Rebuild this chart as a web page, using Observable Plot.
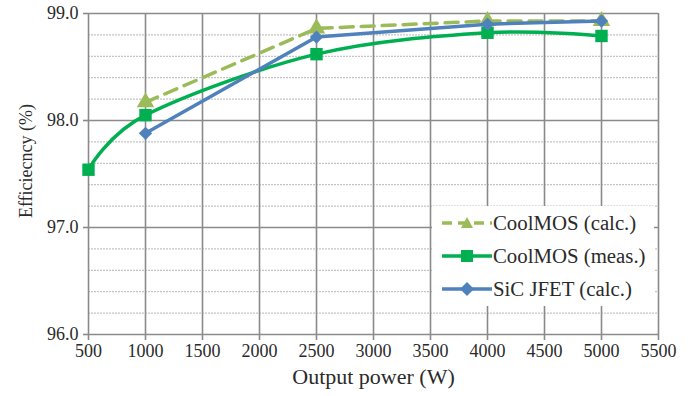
<!DOCTYPE html>
<html>
<head>
<meta charset="utf-8">
<script src="https://cdn.jsdelivr.net/npm/d3@7"></script>
<script src="https://cdn.jsdelivr.net/npm/@observablehq/plot@0.6"></script>
<style>
  html, body { margin: 0; padding: 0; background: #fff; }
  #wrap { position: relative; width: 689px; height: 396px; font-family: "Liberation Serif", "Times New Roman", serif; }
  #legend { position: absolute; left: 432px; top: 206px; width: 222px; height: 100px; background: #fff; }
  .row { display: flex; align-items: center; height: 33px; padding-left: 10px; font-size: 20.8px; color: #2a2a2a; }
  .row svg { margin-right: 1px; }
</style>
</head>
<body>
<div id="wrap"><div id="legend"></div></div>
<script>
// Data
const seriesNames = ["CoolMOS (calc.)", "CoolMOS (meas.)", "SiC JFET (calc.)"];
const seriesColors = ["#9BBB59", "#00B050", "#4F81BD"];
const calcPower = [1000, 2500, 4000, 5000];
const coolCalc = [98.17, 98.86, 98.93, 98.93];
const measPower = [500, 1000, 2500, 4000, 5000];
const coolMeas = [97.54, 98.05, 98.62, 98.82, 98.79];
const jfetPower = [1000, 2500, 4000, 5000];
const jfetCalc = [97.88, 98.78, 98.90, 98.93];
const xTicks = [500, 1000, 1500, 2000, 2500, 3000, 3500, 4000, 4500, 5000, 5500];
const yTicks = [96, 97, 98, 99];
const yMinor = [96.2, 96.4, 96.6, 96.8, 97.2, 97.4, 97.6, 97.8, 98.2, 98.4, 98.6, 98.8];
const xLabel = "Output power (W)";
const yLabel = "Efficiecncy (%)";

const calcData = calcPower.map((p, i) => ({p, v: coolCalc[i]}));
const measData = measPower.map((p, i) => ({p, v: coolMeas[i]}));
const jfetData = jfetPower.map((p, i) => ({p, v: jfetCalc[i]}));

const chart = Plot.plot({
  width: 689,
  height: 396,
  marginLeft: 88,
  marginRight: 31,
  marginTop: 13,
  marginBottom: 62,
  style: {fontFamily: "'Liberation Serif', 'Times New Roman', serif", fontSize: "18px", color: "#2a2a2a", background: "#fff"},
  x: {domain: [500, 5500]},
  y: {domain: [96, 99]},
  marks: [
    Plot.gridY(yMinor, {stroke: "#c4c4c4", strokeOpacity: 1, strokeWidth: 1.2, strokeDasharray: "2,1"}),
    Plot.gridY(yTicks, {stroke: "#8a8a8a", strokeOpacity: 1, strokeWidth: 1.6}),
    Plot.gridX(xTicks, {stroke: "#8a8a8a", strokeOpacity: 1, strokeWidth: 1.6}),
    Plot.axisY(yTicks, {tickFormat: d => d.toFixed(1), tickSize: 5, tickPadding: 5, stroke: "#8a8a8a", strokeWidth: 1.6, label: null, fontSize: 18}),
    Plot.axisX(xTicks, {tickFormat: d => String(d), tickSize: 6, tickPadding: 4, stroke: "#8a8a8a", strokeWidth: 1.6, label: null, fontSize: 18}),
    Plot.text([xLabel], {frameAnchor: "bottom", textAnchor: "middle", dy: 49, fontSize: 22, fill: "#2a2a2a"}),
    Plot.text([yLabel], {frameAnchor: "left", textAnchor: "middle", rotate: -90, dx: -62, dy: -13, fontSize: 18, fill: "#2a2a2a"}),
    Plot.line(calcData, {x: "p", y: "v", stroke: seriesColors[0], strokeWidth: 3.5, strokeDasharray: "13,8"}),
    Plot.dot(calcData, {x: "p", y: "v", symbol: "triangle", r: 6.5, fill: seriesColors[0], stroke: "none"}),
    Plot.line(measData, {x: "p", y: "v", stroke: seriesColors[1], strokeWidth: 3.5, curve: "cardinal"}),
    Plot.dot(measData, {x: "p", y: "v", symbol: "square", r: 7, fill: seriesColors[1], stroke: "none"}),
    Plot.line(jfetData, {x: "p", y: "v", stroke: seriesColors[2], strokeWidth: 3.5}),
    Plot.dot(jfetData, {x: "p", y: "v", symbol: "diamond2", r: 6, fill: seriesColors[2], stroke: "none"})
  ]
});
document.getElementById("wrap").prepend(chart);

// Legend
const symbols = [
  '<polygon points="25,2 31,13 19,13" fill="#9BBB59"/>',
  '<rect x="19" y="2" width="12" height="12" fill="#00B050"/>',
  '<polygon points="25,1 32,8 25,15 18,8" fill="#4F81BD"/>'
];
const dashes = ["10,6", "none", "none"];
const legend = document.getElementById("legend");
seriesNames.forEach((name, i) => {
  const row = document.createElement("div");
  row.className = "row";
  row.innerHTML = `<svg width="50" height="16"><line x1="0" y1="8" x2="50" y2="8" stroke="${seriesColors[i]}" stroke-width="3.5" stroke-dasharray="${dashes[i]}"/>${symbols[i]}</svg><span>${name}</span>`;
  legend.appendChild(row);
});
</script>
</body>
</html>
